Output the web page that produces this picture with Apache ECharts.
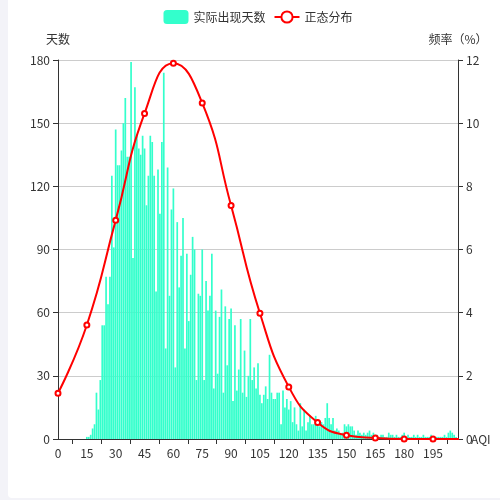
<!DOCTYPE html>
<head>
    <meta charset="utf-8">
    <title>AQI 分布</title>
    <script src="https://cdn.jsdelivr.net/npm/echarts@6/dist/echarts.min.js"></script>
    <style>
        html, body { margin: 0; padding: 0; background: #f3f3f8; overflow: hidden; }
        #main { position: absolute; left: 8px; top: 0; width: 500px; height: 498px;
                background: #fff; border-radius: 0 0 4px 4px; }
    </style>
</head>
<body>
    <div id="main"></div>
    <script type="text/javascript">
    // 每个 AQI 值（0 ~ 208）实际出现的天数
    var days = [
        0, 0, 0, 0, 0, 0, 0, 0, 0, 0, 0, 0, 0, 0, 0,
        1, 1, 2, 5, 7, 22, 14, 28, 54, 54, 77, 64, 77, 125, 91,
        147, 130, 130, 137, 150, 162, 134, 134, 179, 86, 167, 144, 138, 135, 144,
        138, 111, 125, 144, 141, 125, 70, 128, 107, 141, 174, 43, 129, 68, 109,
        119, 34, 103, 72, 87, 105, 43, 88, 56, 78, 96, 90, 28, 69, 68,
        90, 28, 75, 61, 68, 88, 24, 61, 31, 58, 71, 22, 63, 35, 57,
        62, 18, 54, 23, 33, 57, 22, 42, 20, 30, 57, 28, 34, 24, 36,
        21, 17, 21, 25, 19, 40, 22, 19, 19, 22, 22, 7, 23, 15, 19,
        14, 18, 8, 15, 7, 4, 17, 6, 14, 4, 8, 11, 7, 7, 11,
        8, 6, 8, 7, 10, 17, 10, 7, 10, 4, 5, 4, 2, 3, 7,
        6, 7, 6, 6, 4, 2, 4, 3, 2, 3, 2, 3, 4, 2, 3,
        2, 2, 1, 2, 2, 1, 1, 3, 2, 2, 1, 2, 1, 1, 2,
        3, 1, 2, 1, 1, 2, 1, 2, 1, 1, 2, 1, 1, 1, 2,
        1, 1, 1, 1, 1, 1, 2, 1, 3, 4, 3, 2, 1, 0
    ];
    // 正态分布曲线：AQI 采样点和对应频率（%）
    var normalAqi = [0, 15, 30, 45, 60, 75, 90, 105, 120, 135, 150, 165, 180, 195, 210];
    var normalFreq = [1.45, 3.61, 6.93, 10.31, 11.9, 10.64, 7.39, 3.98, 1.65, 0.52, 0.12, 0.03, 0, 0, 0];

    var myChart = echarts.init(document.getElementById('main'));
    var axisColor = '#333';

    myChart.setOption({
        animation: false,
        textStyle: { fontFamily: 'Noto Sans CJK SC' },
        legend: {
            top: 5,
            data: ['实际出现天数', '正态分布'],
            textStyle: { color: '#333', fontSize: 12 }
        },
        grid: { left: 50, right: 50, top: 60, bottom: 59 },
        xAxis: {
            type: 'value',
            name: 'AQI',
            nameGap: 13,
            nameMoveOverlap: false,
            min: 0,
            max: 208,
            interval: 15,
            axisLine: { lineStyle: { color: axisColor } },
            axisTick: { show: false },
            minorTick: { show: true, splitNumber: 2, length: 5, lineStyle: { color: axisColor } },
            axisLabel: { color: axisColor, showMaxLabel: false },
            splitLine: { show: false },
            nameTextStyle: { color: axisColor }
        },
        yAxis: [{
            type: 'value',
            name: '天数',
            min: 0,
            max: 180,
            interval: 30,
            axisLine: { show: true, lineStyle: { color: axisColor } },
            axisTick: { show: true },
            axisLabel: { color: axisColor },
            splitLine: { lineStyle: { color: '#ccc' } },
            nameTextStyle: { color: axisColor }
        }, {
            type: 'value',
            name: '频率（%）',
            min: 0,
            max: 12,
            interval: 2,
            axisLine: { show: true, lineStyle: { color: axisColor } },
            axisTick: { show: true },
            axisLabel: { color: axisColor },
            splitLine: { show: false },
            nameTextStyle: { color: axisColor }
        }],
        series: [{
            name: '实际出现天数',
            type: 'bar',
            barWidth: 1.7,
            itemStyle: { color: '#33ffcc' },
            data: days.map(function (v, i) { return [i, v]; })
        }, {
            name: '正态分布',
            type: 'line',
            yAxisIndex: 1,
            smooth: true,
            symbol: 'emptyCircle',
            symbolSize: 5,
            itemStyle: { color: '#ff0000', borderWidth: 1 },
            lineStyle: { color: '#ff0000', width: 2 },
            data: normalAqi.map(function (a, i) { return [a, normalFreq[i]]; })
        }]
    });
    </script>
</body>
